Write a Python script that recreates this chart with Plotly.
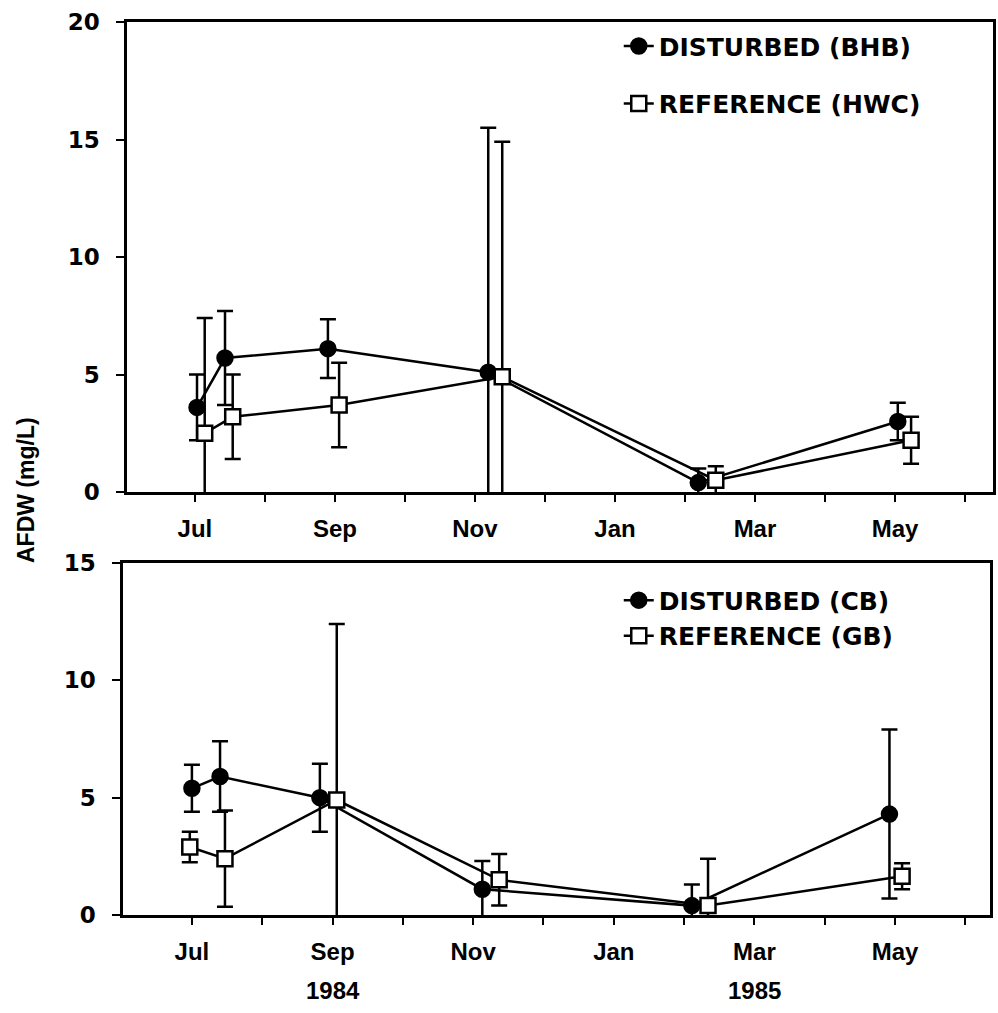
import plotly.graph_objects as go

# Month axis: 0 = Jul 1984 ... 11 = Jun 1985
months = ["Jul", "Aug", "Sep", "Oct", "Nov", "Dec", "Jan", "Feb", "Mar", "Apr", "May", "Jun"]
month_pos = list(range(len(months)))
month_text = [m if i % 2 == 0 else "" for i, m in enumerate(months)]

# Upper panel: BHB (disturbed) vs HWC (reference)
bhb_t = [0.03, 0.43, 1.90, 4.19, 7.19, 10.04]
bhb_afdw = [3.6, 5.7, 6.1, 5.1, 0.4, 3.0]
bhb_sd = [1.4, 2.0, 1.25, 10.4, 0.6, 0.8]

hwc_t = [0.14, 0.54, 2.06, 4.39, 7.44, 10.23]
hwc_afdw = [2.5, 3.2, 3.7, 4.9, 0.5, 2.2]
hwc_sd = [4.9, 1.8, 1.8, 10.0, 0.6, 1.0]

# Lower panel: CB (disturbed) vs GB (reference)
cb_t = [0.00, 0.40, 1.82, 4.13, 7.11, 9.92]
cb_afdw = [5.4, 5.9, 5.0, 1.1, 0.4, 4.3]
cb_sd = [1.0, 1.5, 1.45, 1.2, 0.9, 3.6]

gb_t = [-0.03, 0.47, 2.06, 4.37, 7.34, 10.10]
gb_afdw = [2.9, 2.4, 4.9, 1.5, 0.4, 1.65]
gb_sd = [0.65, 2.05, 7.5, 1.1, 2.0, 0.55]

years = ["1984", "1985"]
year_pos = [2, 8]

BOLD = "DejaVu Sans"
NARROW = "Liberation Sans Narrow, Liberation Sans, Arial"

fig = go.Figure()


def add_series(x, y, sd, name, filled, xa, ya, legend):
    fig.add_trace(go.Scatter(
        x=x, y=y, mode="lines+markers", name=name,
        xaxis=xa, yaxis=ya, legend=legend, legendgroup=name,
        line=dict(color="black", width=2.5),
        marker=dict(
            symbol="circle" if filled else "square",
            size=15,
            color="black" if filled else "white",
            line=dict(color="black", width=2.5),
        ),
        error_y=dict(type="data", array=sd, symmetric=True,
                     color="black", thickness=2.5, width=8),
    ))


add_series(bhb_t, bhb_afdw, bhb_sd, "DISTURBED (BHB)", True, "x", "y", "legend")
add_series(hwc_t, hwc_afdw, hwc_sd, "REFERENCE (HWC)", False, "x", "y", "legend")
add_series(cb_t, cb_afdw, cb_sd, "DISTURBED (CB)", True, "x2", "y2", "legend2")
add_series(gb_t, gb_afdw, gb_sd, "REFERENCE (GB)", False, "x2", "y2", "legend2")

W, H = 998, 1013

xaxis_style = dict(
    tickvals=month_pos, ticktext=month_text,
    ticks="outside", ticklen=7, tickwidth=2, tickcolor="black",
    showline=True, linewidth=2.5, linecolor="black", mirror=True,
    showgrid=False, zeroline=False, automargin=False,
    tickfont=dict(family=NARROW, size=24, color="black", weight="bold"),
    ticklabelstandoff=6,
)
yaxis_style = dict(
    ticks="outside", ticklen=8, tickwidth=2, tickcolor="black",
    showline=True, linewidth=2.5, linecolor="black", mirror=True,
    showgrid=False, zeroline=False, automargin=False,
    tickfont=dict(family=BOLD, size=23, color="black", weight="bold"),
    ticklabelstandoff=12,
)

legend_font = dict(family=BOLD, size=25, color="black", weight="bold")

fig.update_layout(
    width=W, height=H,
    margin=dict(l=0, r=0, t=0, b=0),
    paper_bgcolor="white", plot_bgcolor="white",
    xaxis=dict(xaxis_style, domain=[127 / W, 993 / W], range=[-0.97, 11.4], anchor="y"),
    yaxis=dict(yaxis_style, domain=[1 - 492 / H, 1 - 22 / H], range=[0, 20],
               tickvals=[0, 5, 10, 15, 20], anchor="x"),
    xaxis2=dict(xaxis_style, domain=[123 / W, 990 / W], range=[-0.98, 11.35], anchor="y2"),
    yaxis2=dict(yaxis_style, domain=[1 - 915 / H, 1 - 563 / H], range=[0, 15],
                tickvals=[0, 5, 10, 15], anchor="x2"),
    legend=dict(
        x=0.62, y=0.977, xanchor="left", yanchor="top",
        font=legend_font, bgcolor="rgba(0,0,0,0)",
        itemwidth=30, tracegroupgap=22, traceorder="grouped",
    ),
    legend2=dict(
        x=0.62, y=0.430, xanchor="left", yanchor="top",
        font=legend_font, bgcolor="rgba(0,0,0,0)",
        itemwidth=30, tracegroupgap=0, traceorder="grouped",
    ),
    showlegend=True,
)

fig.add_annotation(
    text="AFDW (mg/L)", xref="paper", yref="paper", x=26 / W, y=1 - 490 / H,
    xanchor="center", yanchor="middle",
    textangle=-90, showarrow=False,
    font=dict(family="Liberation Sans, Arial", size=23, color="black", weight="bold"),
)

for label, pos in zip(years, year_pos):
    fig.add_annotation(
        text=label, xref="x2", yref="paper", x=pos, y=1 - 990 / H,
        xanchor="center", yanchor="middle", showarrow=False,
        font=dict(family=NARROW, size=24, color="black", weight="bold"),
    )

fig.write_html("out.html")
